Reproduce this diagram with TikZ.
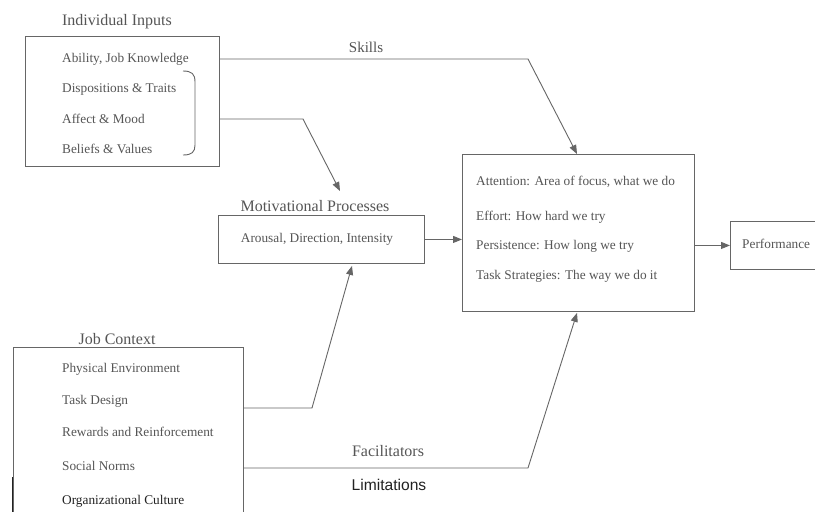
\documentclass[tikz,border=0pt]{standalone}
\usepackage{fontspec}
\setmainfont{Liberation Serif}
\newfontfamily\arialfont{Liberation Sans}
\usetikzlibrary{arrows.meta}
\definecolor{txt}{HTML}{555555}
\definecolor{lin}{HTML}{666666}
\definecolor{dark}{HTML}{222222}
\tikzset{
  box/.style={draw=lin, line width=0.9pt, fill=none, inner sep=0pt, anchor=north west},
  title/.style={text=txt, font=\fontsize{16}{18}\selectfont, inner sep=0pt},
  item/.style={text=txt, font=\fontsize{13.3}{15}\selectfont, inner sep=0pt, anchor=west},
  conn/.style={draw=lin, line width=0.9pt},
  arr/.style={conn, -{Triangle[length=9pt,width=7pt]}},
}
\begin{document}
\begin{tikzpicture}[x=1pt,y=-1pt]
\useasboundingbox (0,0) rectangle (815,512);
\clip (0,0) rectangle (815,512);
\fill[white] (0,0) rectangle (815,512);

% Individual Inputs
\node[title] (inTitle) at (117,22) {Individual Inputs};
\node[box, minimum width=194pt, minimum height=130pt] (inputs) at (25,36) {};
\node[item] (abil) at (62,59) {Ability, Job Knowledge};
\node[item] (disp) at (62,89) {Dispositions \& Traits};
\node[item] (affect) at (62,119) {Affect \& Mood};
\node[item] (belief) at (62,149) {Beliefs \& Values};
\draw[conn] (183,71) .. controls (192,71) and (195,74) .. (195,82) -- (195,145)
  .. controls (195,152) and (192,155) .. (183,155);

% Motivational Processes
\node[title] (mpTitle) at (315,206) {Motivational Processes};
\node[box, minimum width=206pt, minimum height=48pt] (mp) at (218,215) {};
\node[item, anchor=center] (mpText) at (317,239) {Arousal, Direction, Intensity};

% Central box
\node[box, minimum width=232pt, minimum height=157pt] (big) at (462,154) {};
\node[item] (att) at (476,182) {Attention: Area of focus, what we do};
\node[item] (eff) at (476,217) {Effort: How hard we try};
\node[item] (per) at (476,246) {Persistence: How long we try};
\node[item] (strat) at (476,276) {Task Strategies: The way we do it};

% Performance
\node[box, minimum width=120pt, minimum height=48pt] (perf) at (730,221) {};
\node[item] (perfText) at (742,244) {Performance};

% Job Context
\node[title] (jcTitle) at (117,339) {Job Context};
\node[box, minimum width=230pt, minimum height=180pt] (job) at (13,347) {};
\draw[dark, line width=1.2pt] (12.5,477) -- (12.5,520);
\node[item] (phys) at (62,369) {Physical Environment};
\node[item] (task) at (62,401) {Task Design};
\node[item] (rew) at (62,432) {Rewards and Reinforcement};
\node[item] (soc) at (62,466) {Social Norms};
\node[item, text=dark] (org) at (62,501) {Organizational Culture};

% connector coordinates
\coordinate (skBend) at (528,59);
\coordinate (skTip) at (577,0);
\coordinate (afBend) at (303,119);
\coordinate (afTip) at (340,191);
\coordinate (jcY) at (0,408);
\coordinate (jcBend) at (312,408);
\coordinate (jcTip) at (352,0);
\coordinate (faY) at (0,468);
\coordinate (faBend) at (528,468);
\coordinate (faTip) at (577,0);

% connectors
\draw[arr] (inputs.east |- abil) -- (skBend) -- (big.north -| skTip);
\node[title, font=\fontsize{15}{17}\selectfont] (skills) at (366,47) {Skills};
\draw[arr] (inputs.east |- affect) -- (afBend) -- (afTip);
\draw[arr] (mp.east) -- (big.west |- mp.east);
\draw[arr] (big.east |- perf.west) -- (perf.west);
\draw[arr] (job.east |- jcY) -- (jcBend) -- ([yshift=-2pt]mp.south -| jcTip);
\draw[arr] (job.east |- faY) -- (faBend) -- ([yshift=-1pt]big.south -| faTip);
\node[title] (facil) at (388,451) {Facilitators};
\node[title, text=dark, font=\arialfont\fontsize{15.6}{18}\selectfont] (limit) at (389,485) {Limitations};
\end{tikzpicture}
\end{document}
